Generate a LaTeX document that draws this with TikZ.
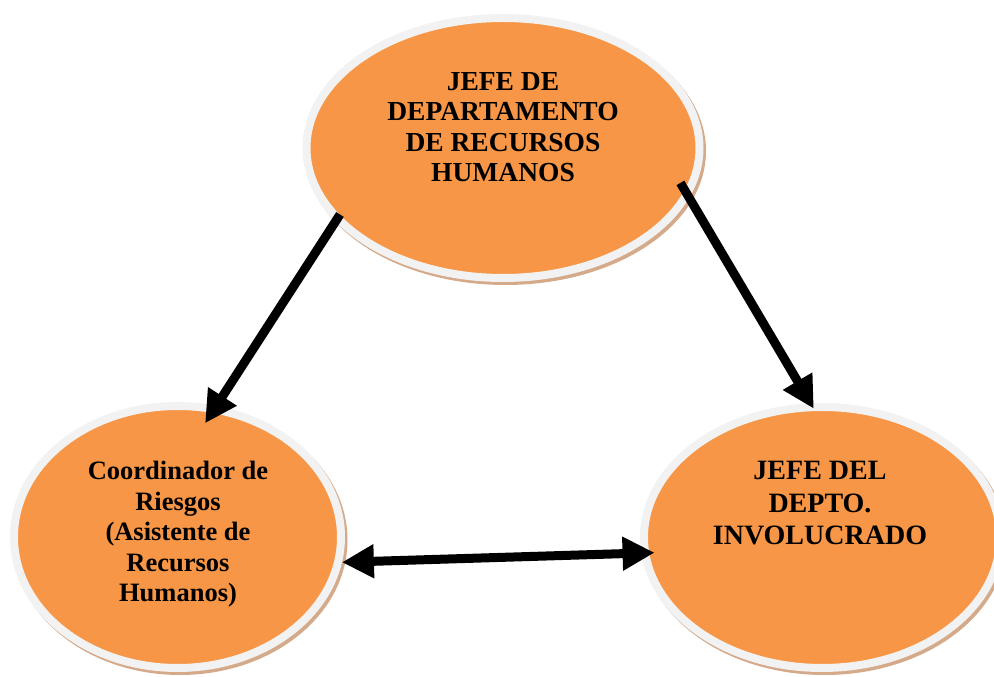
\documentclass[tikz,border=0pt]{standalone}
\usepackage{fontspec}
\setmainfont{Liberation Serif}
\usetikzlibrary{shapes.geometric,arrows.meta,shadows}
\definecolor{ovfill}{HTML}{F79646}
\definecolor{ovrim}{HTML}{F2F2F2}
\definecolor{ovshadow}{RGB}{212,170,138}
\begin{document}
\begin{tikzpicture}[x=1pt,y=1pt,
  oval/.style={ellipse, fill=ovfill, draw=ovrim, line width=8pt, inner sep=0pt, outer sep=0pt,
    drop shadow={shadow xshift=2.5pt, shadow yshift=-3pt, fill=ovshadow, draw=ovshadow, line width=8pt, opacity=1}},
  lbl/.style={align=center, font=\bfseries\fontsize{26.5}{30.5}\selectfont, anchor=base, inner sep=0pt},
  arr/.style={line width=9pt, -{Triangle[width=32pt,length=32pt]}},
  dblarr/.style={line width=9pt, {Triangle[width=32pt,length=32pt]}-{Triangle[width=32pt,length=32pt]}}]
\useasboundingbox (0,0) rectangle (994,677);
\fill[white] (0,0) rectangle (994,677);
\node[oval, minimum width=393pt, minimum height=260pt] (hr) at (503,529) {};
\node[oval, minimum width=327pt, minimum height=262pt] (cr) at (177.5,140) {};
\node[oval, minimum width=356pt, minimum height=261pt] (jd) at (822,139.5) {};
\draw[arr, shorten <=-4.4pt, shorten >=-16.6pt] (hr.203.6) -- (cr.74.8);
\draw[arr, shorten <=-12.7pt, shorten >=-1.8pt] (hr.346.3) -- (jd.94.45);
\draw[dblarr, shorten <=4pt, shorten >=-9.3pt] (cr.351) -- (jd.185.98);
\node[lbl, font=\bfseries\fontsize{27.5}{30.5}\selectfont] (hrt) at (503,495) {JEFE DE\\DEPARTAMENTO\\DE RECURSOS\\HUMANOS};
\node[lbl] (crt) at (178,75) {Coordinador de\\Riesgos\\(Asistente de\\Recursos\\Humanos)};
\node[lbl, font=\bfseries\fontsize{28}{32.5}\selectfont] (jdt) at (820,132) {JEFE DEL\\DEPTO.\\INVOLUCRADO};
\end{tikzpicture}
\end{document}
